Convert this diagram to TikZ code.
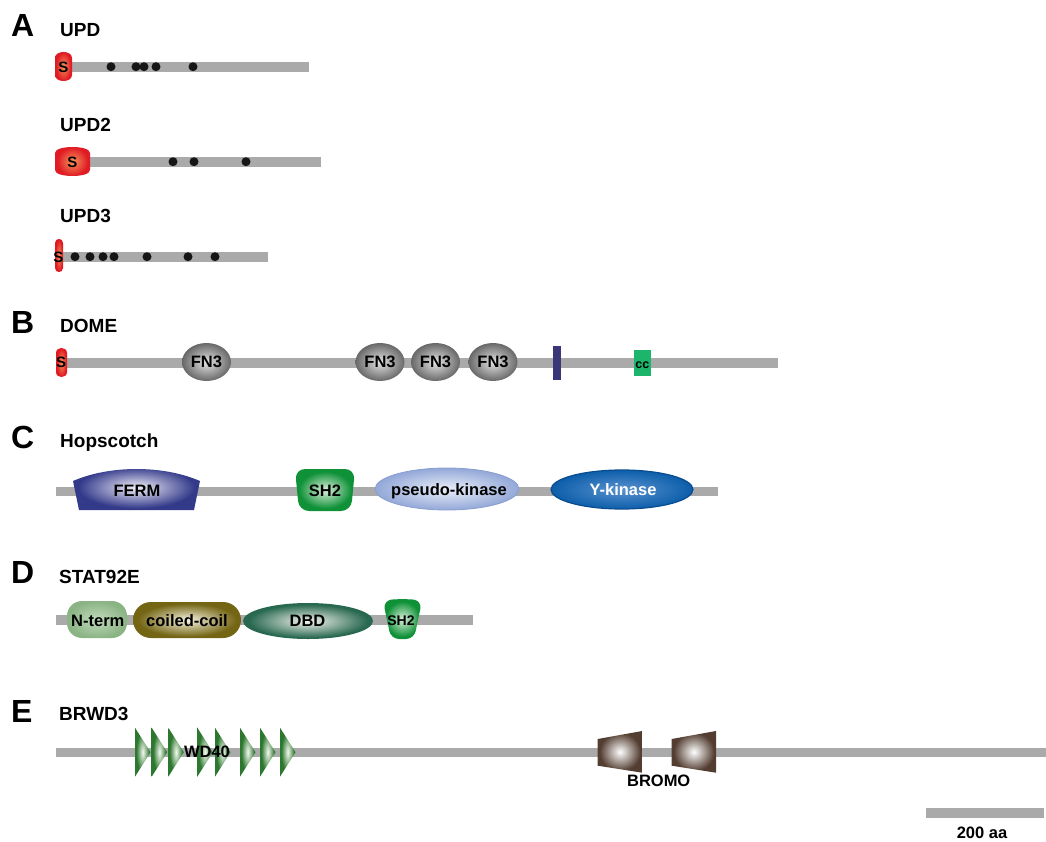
\documentclass[tikz,border=0pt]{standalone}
\usepackage{fontspec}
\setmainfont{Liberation Sans}
\usetikzlibrary{shapes.geometric}
\definecolor{bargray}{HTML}{AAAAAA}
\definecolor{sredO}{HTML}{E01B24}
\definecolor{sredI}{HTML}{F5935A}
\definecolor{fnO}{HTML}{686868}
\definecolor{fnI}{HTML}{E4E4E4}
\definecolor{fermO}{HTML}{333A8A}
\definecolor{fermI}{HTML}{F2F0FA}
\definecolor{shO}{HTML}{0F9138}
\definecolor{shI}{HTML}{DDF2DD}
\definecolor{pkO}{HTML}{93A8D8}
\definecolor{pkI}{HTML}{EAEFF9}
\definecolor{pkD}{HTML}{8A9ECF}
\definecolor{ykO}{HTML}{0C5EAA}
\definecolor{ykI}{HTML}{5A92CF}
\definecolor{ykD}{HTML}{0A4C90}
\definecolor{ntO}{HTML}{8AB484}
\definecolor{ntI}{HTML}{C2DBBB}
\definecolor{ccO}{HTML}{736514}
\definecolor{ccI}{HTML}{F7F3DE}
\definecolor{dbO}{HTML}{286850}
\definecolor{dbI}{HTML}{F4F4F0}
\definecolor{wdO}{HTML}{2C782E}
\definecolor{wdI}{HTML}{F4F8F0}
\definecolor{brO}{HTML}{533D31}
\definecolor{brI}{HTML}{FFFFFF}
\definecolor{tmC}{HTML}{3A3679}
\definecolor{ccbox}{HTML}{1DB46C}
\definecolor{dotC}{HTML}{161616}
\newcommand\defrad[4]{\pgfdeclareradialshading{#1}{\pgfpoint{0bp}{0bp}}{color(0bp)=(#3); color(#4bp)=(#2); color(50bp)=(#2)}}
\defrad{radS}{sredO}{sredI}{22}
\defrad{radFN}{fnO}{fnI}{25}
\defrad{radFERM}{fermO}{fermI}{23}
\defrad{radSH}{shO}{shI}{22}
\defrad{radPK}{pkO}{pkI}{25}
\defrad{radYK}{ykO}{ykI}{25}
\defrad{radNT}{ntO}{ntI}{25}
\defrad{radCC}{ccO}{ccI}{23}
\defrad{radDB}{dbO}{dbI}{23}
\defrad{radWD}{wdO}{wdI}{21}
\defrad{radBR}{brO}{brI}{23}
\newcommand\fSec{\fontsize{32}{32}\selectfont\bfseries}
\newcommand\fName{\fontsize{19}{19}\selectfont\bfseries}
\newcommand\fDom{\fontsize{16.5}{16.5}\selectfont\bfseries}
\newcommand\fSmall{\fontsize{14}{14}\selectfont\bfseries}
\begin{document}
\begin{tikzpicture}[x=1pt,y=-1pt,
  bar/.style={fill=bargray,draw=none},
  dot/.style={fill=dotC,draw=none},
  sec/.style={font=\fSec,anchor=base west,inner sep=0pt},
  pname/.style={font=\fName,anchor=base west,inner sep=0pt},
  domtext/.style={font=\fDom,inner sep=0pt,text height=11.8pt,text depth=0pt},
  stext/.style={font=\fontsize{15}{15}\selectfont\bfseries,inner sep=0pt,text height=10.8pt,text depth=0pt},
  smalltext/.style={font=\fSmall,inner sep=0pt,text height=10pt,text depth=0pt},
  shd/.style={shading=#1,draw=none},
  sdom/.style={shd=radS},
]
\useasboundingbox (0,0) rectangle (1046,842);

% ---------------- A ----------------
\node[sec] (lA) at (11,37) {A};
\node[pname] (nUPD) at (60,37) {UPD};
\fill[bar] (56,61.7) rectangle (309,71.7);
\path[sdom] (55,58) .. controls (55,50) and (72,50) .. (72,58) -- (72,75) .. controls (72,83) and (55,83) .. (55,75) -- cycle;
\node[stext] (sUPD) at (63.5,66.7) {S};
\foreach \x in {111,136,144,156,193} \fill[dot] (\x,66.7) circle (4.5);

\node[pname] (nUPD2) at (60,132) {UPD2};
\fill[bar] (56,156.7) rectangle (321,166.7);
\path[sdom] (55,153) .. controls (55,145) and (90,145) .. (90,153) -- (90,170) .. controls (90,178) and (55,178) .. (55,170) -- cycle;
\node[stext] (sUPD2) at (72.5,161.7) {S};
\foreach \x in {173,194,246} \fill[dot] (\x,161.7) circle (4.5);

\node[pname] (nUPD3) at (60,223) {UPD3};
\fill[bar] (56,251.7) rectangle (268,261.7);
\path[sdom] (55,243) .. controls (55,237.6) and (63,237.6) .. (63,243) -- (63,268) .. controls (63,273.4) and (55,273.4) .. (55,268) -- cycle;
\node[stext] (sUPD3) at (58.5,256.7) {S};
\foreach \x in {75,90,103,114,147,188,215} \fill[dot] (\x,256.7) circle (4.5);

% ---------------- B ----------------
\node[sec] (lB) at (11,333) {B};
\node[pname] (nDOME) at (60,332) {DOME};
\fill[bar] (56,357.5) rectangle (778,367.5);
\path[sdom] (56,353) .. controls (56,346.3) and (67,346.3) .. (67,353) -- (67,372) .. controls (67,378.7) and (56,378.7) .. (56,372) -- cycle;
\node[stext] (sDOME) at (61.2,362.5) {S};
\foreach \cx/\nm in {206.5/fa,380/fb,435.5/fc,493/fd}
  \node[ellipse,minimum width=49pt,minimum height=38pt,inner sep=0pt,shd=radFN] (\nm) at (\cx,362) {};
\foreach \nm in {fa,fb,fc,fd} \node[domtext] at (\nm.center) {FN3};
\node[fill=tmC,minimum width=8pt,minimum height=34.3pt,inner sep=0pt] (tm) at (556.7,362.8) {};
\node[fill=ccbox,minimum width=16.7pt,minimum height=26pt,inner sep=0pt] (cc) at (642.3,363) {};
\node[smalltext,font=\fontsize{12.5}{12.5}\selectfont\bfseries,text height=9pt] (cct) at (642.3,364) {cc};

% ---------------- C ----------------
\node[sec] (lC) at (11,448) {C};
\node[pname] (nHOP) at (60,447) {Hopscotch};
\fill[bar] (56,486.7) rectangle (718,496.2);
\path[shd=radFERM] (73,481) .. controls (110,465) and (163,465) .. (200,481) -- (194,510) -- (79,510) -- cycle;
\node[domtext] (ferm) at (137,491) {FERM};
\path[shd=radSH,rounded corners=10pt] (295,469) -- (355,469) -- (351,511) -- (299,511) -- cycle;
\node[domtext] (sh2a) at (325,491) {SH2};
\node[ellipse,minimum width=144pt,minimum height=42pt,inner sep=0pt,shd=radPK,draw=pkD,line width=0.8pt] (pk) at (447,489) {};
\node[domtext] (pkt) at (449,490) {pseudo-kinase};
\node[ellipse,minimum width=142pt,minimum height=39pt,inner sep=0pt,shd=radYK,draw=ykD,line width=1.2pt] (yk) at (622,489.5) {};
\node[domtext,text=white] (ykt) at (623,490) {Y-kinase};

% ---------------- D ----------------
\node[sec] (lD) at (11,583) {D};
\node[pname] (nSTAT) at (59,583) {STAT92E};
\fill[bar] (56,615) rectangle (473,625);
\node[rectangle,rounded corners=15pt,minimum width=60pt,minimum height=37pt,inner sep=0pt,shd=radNT] (nt) at (97,619.5) {};
\node[domtext] (ntt) at (97.8,620.5) {N-term};
\node[rectangle,rounded corners=18pt,minimum width=108pt,minimum height=36pt,inner sep=0pt,shd=radCC] (coil) at (187,620) {};
\node[domtext] (coilt) at (187,620.5) {coiled-coil};
\node[ellipse,minimum width=130pt,minimum height=36pt,inner sep=0pt,shd=radDB] (dbd) at (308,621) {};
\node[domtext] (dbdt) at (307.5,620.5) {DBD};
\path[shd=radSH,rounded corners=8pt] (383,601) .. controls (395,599) and (410,599) .. (422,601) -- (414,639) -- (391,639) -- cycle;
\node[smalltext] (sh2b) at (401,620.5) {SH2};

% ---------------- E ----------------
\node[sec] (lE) at (11,722) {E};
\node[pname] (nBR) at (59,720.7) {BRWD3};
\fill[bar] (56,747.7) rectangle (1046,757.2);
\foreach \L in {135,151.7,168.3,197.3,215,240,260,280}
  \path[shd=radWD] (\L,727.7) -- (\L+15.5,752.2) -- (\L,776.7) -- cycle;
\node[domtext] (wd) at (207,752) {WD40};
\path[shd=radBR] (597.7,739) -- (642.3,731) -- (642.3,772.7) -- (597.7,765.7) -- cycle;
\path[shd=radBR] (671.7,739) -- (716,731) -- (716,772.7) -- (671.7,765.7) -- cycle;
\node[domtext] (bromo) at (658.7,781) {BROMO};

% scale bar
\fill[bar] (926,808) rectangle (1044,818);
\node[domtext] (scale) at (982,832.6) {200 aa};
\end{tikzpicture}
\end{document}
